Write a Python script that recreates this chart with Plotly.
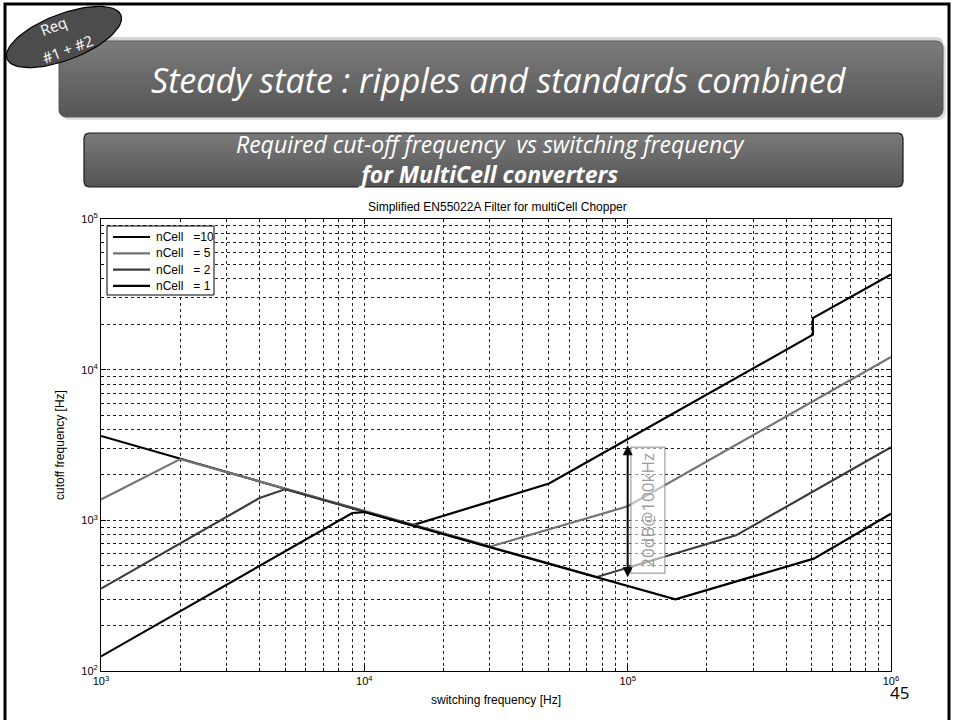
import numpy as np
import plotly.graph_objects as go

# ---------------- data ----------------
F_N10 = [1e3, 15200, 50300, 505000, 505000, 1e6]
C_N10 = [3630, 927, 1754, 17060, 21980, 42850]

F_N5 = [1e3, 2000, 30200, 1e5, 1e6]
C_N5 = [1377, 2550, 671, 1239, 12130]

F_N2 = [1e3, 4000, 5000, 76400, 258000, 1e6]
C_N2 = [352, 1406, 1607, 421, 795, 3061]

F_N1 = [1e3, 9000, 10000, 151800, 509000, 1e6]
C_N1 = [125, 1119, 1135, 299, 557, 1107]

SERIES_NAMES = ["nCell\u00a0\u00a0\u00a0=10", "nCell\u00a0\u00a0\u00a0= 5",
                "nCell\u00a0\u00a0\u00a0= 2", "nCell\u00a0\u00a0\u00a0= 1"]

X_TICKS = [1e3, 1e4, 1e5, 1e6]
X_TICKTEXT = ["10<sup>3</sup>", "10<sup>4</sup>", "10<sup>5</sup>", "10<sup>6</sup>"]
Y_TICKS = [1e2, 1e3, 1e4, 1e5]
Y_TICKTEXT = ["10<sup>2</sup>", "10<sup>3</sup>", "10<sup>4</sup>", "10<sup>5</sup>"]

ARROW_F = 1e5
ARROW_TOP = 3150
ARROW_BOTTOM = 410
LABEL_F = 119500
LABEL_C = 1160

# ---------------- page geometry ----------------
W, H = 953, 720
PL, PR, PT, PB = 101, 891, 219, 671   # plot area in pixels

SERIES_COLORS = ["#000000", "#747474", "#3c3c3c", "#000000"]
CHART_FONT = "Liberation Sans, Arial, sans-serif"
SLIDE_FONT = "Open Sans, Lato, sans-serif"

fig = go.Figure()

series = [(F_N10, C_N10), (F_N5, C_N5), (F_N2, C_N2), (F_N1, C_N1)]
for (fx, cy), name, col in zip(series, SERIES_NAMES, SERIES_COLORS):
    fig.add_trace(go.Scatter(x=fx, y=cy, mode="lines", name=name,
                             line=dict(color=col, width=2.2), showlegend=False,
                             xaxis="x", yaxis="y", hoverinfo="skip"))

# ---------------- decoration helpers (pixel axes x2/y2) ----------------
def rrect(x0, y0, x1, y1, r, n=8):
    pts = []
    corners = [(x1 - r, y0 + r, -90, 0), (x1 - r, y1 - r, 0, 90),
               (x0 + r, y1 - r, 90, 180), (x0 + r, y0 + r, 180, 270)]
    for cx, cy, a0, a1 in corners:
        for a in np.linspace(np.radians(a0), np.radians(a1), n):
            pts.append((cx + r * np.cos(a), cy + r * np.sin(a)))
    pts.append(pts[0])
    xs, ys = zip(*pts)
    return list(xs), list(ys)


def deco_fill(xs, ys, c_top, c_bot, y_top, y_bot, line_color=None, lw=0):
    fig.add_trace(go.Scatter(
        x=xs, y=ys, mode="lines", fill="toself",
        fillgradient=dict(type="vertical",
                          colorscale=[[0, c_top], [1, c_bot]],
                          start=y_top, stop=y_bot),
        line=dict(color=line_color or "rgba(0,0,0,0)", width=lw),
        xaxis="x2", yaxis="y2", showlegend=False, hoverinfo="skip"))

# title banner shadow
xs, ys = rrect(62, 42, 946, 120, 7)
fig.add_trace(go.Scatter(x=xs, y=ys, mode="lines", fill="toself",
                         fillcolor="rgba(0,0,0,0.12)", line=dict(width=0),
                         xaxis="x2", yaxis="y2", showlegend=False, hoverinfo="skip"))
# title banner light top edge
xs, ys = rrect(59, 37, 943, 60, 6)
deco_fill(xs, ys, "#d8d8d8", "#9a9a9a", 37, 60)
# title banner body
xs, ys = rrect(59, 41, 943, 117, 7)
deco_fill(xs, ys, "#7c7c7c", "#555555", 41, 117, "#5a5a5a", 1)

# subtitle banner
xs, ys = rrect(84, 133, 903, 187, 5)
deco_fill(xs, ys, "#7a7a7a", "#545454", 133, 187, "#1a1a1a", 1.2)

# badge ellipse (rotated)
t = np.linspace(0, 2 * np.pi, 80)
ang = np.radians(-21)
ex, ey = 61 * np.cos(t), 23 * np.sin(t)
bx = 64 + ex * np.cos(ang) - ey * np.sin(ang)
by = 37 + ex * np.sin(ang) + ey * np.cos(ang)
fig.add_trace(go.Scatter(x=list(bx), y=list(by), mode="lines", fill="toself",
                         fillcolor="#4c4c4c", line=dict(color="#000000", width=1.2),
                         xaxis="x2", yaxis="y2", showlegend=False, hoverinfo="skip"))

# ---------------- annotations ----------------
ann = []
shapes = []


def px_paper(px, py):
    return px / W, 1 - py / H


def text_at(px, py, text, font, **kw):
    x, y = px_paper(px, py)
    ann.append(dict(x=x, y=y, xref="paper", yref="paper", showarrow=False,
                    xanchor=kw.pop("xanchor", "center"), yanchor="middle",
                    text=text, font=font, **kw))


text_at(499, 80, "<i>Steady state : ripples and standards combined</i>",
        dict(family=SLIDE_FONT, size=34, color="white"))
text_at(490, 159,
        "<i>Required cut-off frequency\u00a0 vs switching frequency</i><br>"
        "<b><i>for MultiCell converters</i></b>",
        dict(family=SLIDE_FONT, size=23, color="white"), align="center")
text_at(53, 26, "Req", dict(family=SLIDE_FONT, size=15, color="white"), textangle=-21)
text_at(67, 49, "#1 + #2", dict(family=SLIDE_FONT, size=15, color="white"), textangle=-21)
text_at(497, 207, "Simplified EN55022A Filter for multiCell Chopper",
        dict(family=CHART_FONT, size=12, color="black"))
text_at(899, 692, "45", dict(family=SLIDE_FONT, size=17, color="black"))

# custom legend (MATLAB style, compact)
lx0, ly0 = px_paper(107, 226)
lx1, ly1 = px_paper(214, 295)
shapes.append(dict(type="rect", xref="paper", yref="paper", x0=lx0, x1=lx1, y0=ly1, y1=ly0,
                   line=dict(color="black", width=1), fillcolor="white", layer="above"))
for i, (name, col) in enumerate(zip(SERIES_NAMES, SERIES_COLORS)):
    row_y = 237 + i * 16.3
    sx0, sy = px_paper(113, row_y)
    sx1, _ = px_paper(150, row_y)
    shapes.append(dict(type="line", xref="paper", yref="paper", x0=sx0, x1=sx1,
                       y0=sy, y1=sy, line=dict(color=col, width=2.2), layer="above"))
    text_at(154, row_y, name, dict(family=CHART_FONT, size=12, color="black"),
            xanchor="left")

# label box first, arrow on top
ann.append(dict(x=np.log10(LABEL_F), y=np.log10(LABEL_C), xref="x", yref="y",
                showarrow=False, textangle=-90, text="20dB@100kHz",
                xanchor="center", yanchor="middle",
                font=dict(family=SLIDE_FONT, size=17, color="#9a9a9a"),
                bordercolor="#8a8a8a", borderwidth=1, borderpad=5,
                bgcolor="rgba(255,255,255,0.55)"))
ann.append(dict(x=np.log10(ARROW_F), y=np.log10(ARROW_TOP), xref="x", yref="y",
                ax=np.log10(ARROW_F), ay=np.log10(ARROW_BOTTOM), axref="x", ayref="y",
                showarrow=True, arrowhead=2, arrowside="end+start", arrowsize=1,
                arrowwidth=2, arrowcolor="black", text=""))

# page frame
shapes.append(dict(type="rect", xref="paper", yref="paper",
                   x0=5 / W, x1=949 / W, y0=-0.05, y1=1 - 4 / H,
                   line=dict(color="black", width=3), fillcolor="rgba(0,0,0,0)"))

# ---------------- axes ----------------
minor_x = [k * 10 ** d for d in range(3, 6) for k in range(2, 10)]
minor_y = [k * 10 ** d for d in range(2, 5) for k in range(2, 10)]
grid_common = dict(gridcolor="#222222", gridwidth=1, griddash="dot")

fig.update_layout(
    width=W, height=H,
    margin=dict(l=0, r=0, t=0, b=0),
    paper_bgcolor="white", plot_bgcolor="rgba(0,0,0,0)",
    hovermode=False,
    showlegend=False,
    xaxis=dict(type="log", range=[3, 6], domain=[PL / W, PR / W],
               tickmode="array", tickvals=X_TICKS, ticktext=X_TICKTEXT,
               showgrid=True, **grid_common,
               minor=dict(tickmode="array", tickvals=minor_x, showgrid=True,
                          ticks="inside", ticklen=3, tickcolor="black", **grid_common),
               ticks="inside", ticklen=5, tickcolor="black",
               showline=True, linecolor="black", linewidth=1, mirror="allticks",
               tickfont=dict(family=CHART_FONT, size=11, color="black"),
               title=dict(text="switching frequency [Hz]", standoff=9,
                          font=dict(family=CHART_FONT, size=12, color="black")),
               automargin=False, zeroline=False),
    yaxis=dict(type="log", range=[2, 5], domain=[1 - PB / H, 1 - PT / H],
               tickmode="array", tickvals=Y_TICKS, ticktext=Y_TICKTEXT,
               showgrid=True, **grid_common,
               minor=dict(tickmode="array", tickvals=minor_y, showgrid=True,
                          ticks="inside", ticklen=3, tickcolor="black", **grid_common),
               ticks="inside", ticklen=5, tickcolor="black",
               showline=True, linecolor="black", linewidth=1, mirror="allticks",
               tickfont=dict(family=CHART_FONT, size=11, color="black"),
               title=dict(text="cutoff frequency [Hz]", standoff=14,
                          font=dict(family=CHART_FONT, size=12, color="black")),
               automargin=False, zeroline=False),
    xaxis2=dict(range=[0, W], domain=[0, 1], visible=False, fixedrange=True),
    yaxis2=dict(range=[H, 0], domain=[0, 1], visible=False, fixedrange=True),
    annotations=ann,
    shapes=shapes,
)

fig.write_html("out.html",
               config={"displayModeBar": False, "staticPlot": True},
               post_script="document.body.style.margin='0px';"
                           "document.body.style.overflow='hidden';")
